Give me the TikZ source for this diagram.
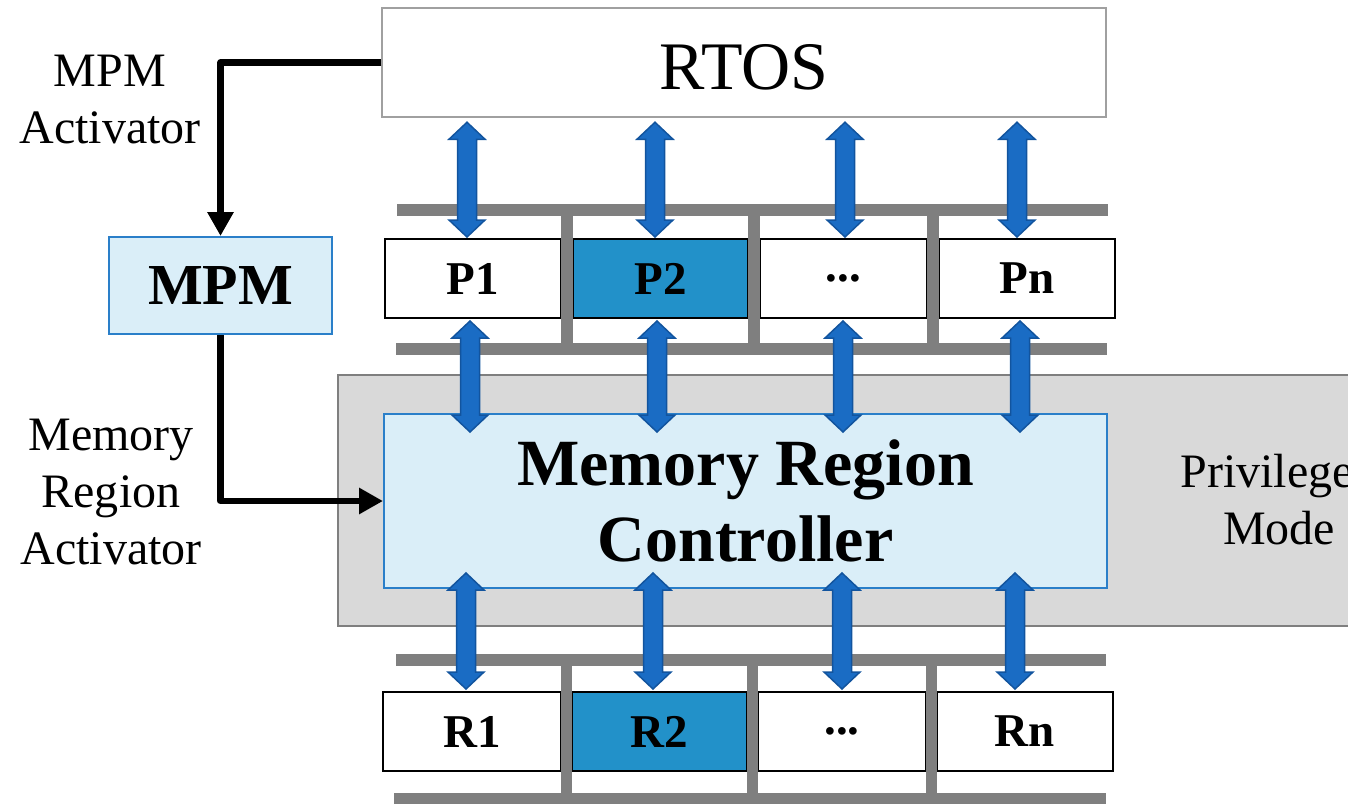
\documentclass[tikz,border=0pt]{standalone}
\usepackage{fontspec}
\setmainfont{Liberation Serif}
\usetikzlibrary{arrows.meta,calc}

\definecolor{paleblue}{HTML}{DAEEF8}
\definecolor{edgeblue}{HTML}{2A7FC9}
\definecolor{activeblue}{HTML}{2291C9}
\definecolor{busblue}{HTML}{1A6CC4}
\definecolor{busedge}{HTML}{12549E}
\definecolor{railgray}{HTML}{7F7F7F}
\definecolor{privgray}{HTML}{D9D9D9}
\definecolor{osgray}{HTML}{A0A0A0}

\tikzset{
  slot/.style={draw=black, line width=2pt, fill=white, inner sep=0pt,
    minimum height=79pt, font=\bfseries\fontsize{47}{57}\selectfont},
  active/.style={slot, fill=activeblue},
  rail/.style={fill=railgray, draw=none},
  lbl/.style={align=center, inner sep=0pt, font=\fontsize{48}{57}\selectfont},
  unit/.style={draw=edgeblue, line width=2pt, fill=paleblue, inner sep=0pt, align=center},
  bus/.style={fill=busblue, draw=busedge, line width=1.5pt, line join=miter},
  ctrl/.style={line width=6.5pt, line join=round, -{Triangle[width=25pt,length=24pt]}},
}

% vertical two-headed bus arrow between two points sharing the x of the first
\newcommand\busarrow[2]{%
  \draw[bus] let \p1=#1, \p2=#2 in
    (\x1,\y1) -- (\x1+18pt,\y1-17pt) -- (\x1+9.5pt,\y1-17pt)
    -- (\x1+9.5pt,\y2+17pt) -- (\x1+18pt,\y2+17pt) -- (\x1,\y2)
    -- (\x1-18pt,\y2+17pt) -- (\x1-9.5pt,\y2+17pt)
    -- (\x1-9.5pt,\y1-17pt) -- (\x1-18pt,\y1-17pt) -- cycle;}

\begin{document}
\begin{tikzpicture}[x=1pt,y=-1pt]
\useasboundingbox (0,0) rectangle (1348,803);
\clip (0,0) rectangle (1348,803);

% privileged zone
\node[draw=railgray, line width=1.5pt, fill=privgray, inner sep=0pt,
  minimum width=1030pt, minimum height=251pt] (priv) at (853,500.5) {};
\node[lbl] (privlbl) at (1279,500) {Privileged\\Mode};

% RTOS
\node[draw=osgray, line width=1.5pt, fill=white, inner sep=0pt,
  minimum width=724pt, minimum height=109pt, text height=54pt, text depth=0pt,
  font=\fontsize{68}{80}\selectfont] (rtos) at (744,62.5) {RTOS};

% memory region controller
\node[unit, minimum width=723pt, minimum height=174pt,
  font=\bfseries\fontsize{66}{76}\selectfont] (mrc) at (745.5,501) {Memory Region\\Controller};

% MPM
\node[unit, minimum width=223pt, minimum height=97pt,
  font=\bfseries\fontsize{58}{70}\selectfont] (mpm) at (220.5,285.5) {MPM};

% partitions
\node[slot, minimum width=176pt] (p1) at (473,278.5) {P1};
\node[active, minimum width=175pt] (p2) at (660.5,278.5) {P2};
\node[slot, minimum width=167pt] (p3) at (843.5,278.5) {...};
\node[slot, minimum width=176pt] (pn) at (1027,278.5) {Pn};

% regions
\node[slot, minimum width=178pt] (r1) at (472,731.5) {R1};
\node[active, minimum width=175pt] (r2) at (659.5,731.5) {R2};
\node[slot, minimum width=168pt] (r3) at (842,731.5) {...};
\node[slot, minimum width=176pt] (rn) at (1025,731.5) {Rn};

% rails around the partitions
\fill[rail] (397,204) rectangle (1108,216);
\fill[rail] (396,343) rectangle (1107,355);
\fill[rail] (561,216) rectangle (573,343);
\fill[rail] (748,216) rectangle (760,343);
\fill[rail] (927,216) rectangle (939,343);

% rails around the regions
\fill[rail] (396,654) rectangle (1106,666);
\fill[rail] (394,793) rectangle (1106,805);
\fill[rail] (561,666) rectangle (572,793);
\fill[rail] (747,666) rectangle (758,793);
\fill[rail] (926,666) rectangle (937,793);

% bus columns
\coordinate (t1) at (467,0);  \coordinate (t2) at (655,0);
\coordinate (t3) at (845,0);  \coordinate (t4) at (1017,0);
\coordinate (m1) at (470,0);  \coordinate (m2) at (657,0);
\coordinate (m3) at (843,0);  \coordinate (m4) at (1020,0);
\coordinate (b1) at (466,0);  \coordinate (b2) at (653,0);
\coordinate (b3) at (842,0);  \coordinate (b4) at (1015,0);

% RTOS <-> partitions
\busarrow{($(rtos.south -| t1)+(0,4.5)$)}{($(p1.north -| t1)+(0,-1)$)}
\busarrow{($(rtos.south -| t2)+(0,4.5)$)}{($(p2.north -| t2)+(0,-1)$)}
\busarrow{($(rtos.south -| t3)+(0,4.5)$)}{($(p3.north -| t3)+(0,-1)$)}
\busarrow{($(rtos.south -| t4)+(0,4.5)$)}{($(pn.north -| t4)+(0,-1)$)}

% partitions <-> controller
\busarrow{($(p1.south -| m1)+(0,2)$)}{($(mrc.north -| m1)+(0,19)$)}
\busarrow{($(p2.south -| m2)+(0,2)$)}{($(mrc.north -| m2)+(0,19)$)}
\busarrow{($(p3.south -| m3)+(0,2)$)}{($(mrc.north -| m3)+(0,19)$)}
\busarrow{($(pn.south -| m4)+(0,2)$)}{($(mrc.north -| m4)+(0,19)$)}

% controller <-> regions
\busarrow{($(mrc.south -| b1)+(0,-16)$)}{($(r1.north -| b1)+(0,-2)$)}
\busarrow{($(mrc.south -| b2)+(0,-16)$)}{($(r2.north -| b2)+(0,-2)$)}
\busarrow{($(mrc.south -| b3)+(0,-16)$)}{($(r3.north -| b3)+(0,-2)$)}
\busarrow{($(mrc.south -| b4)+(0,-16)$)}{($(rn.north -| b4)+(0,-2)$)}

% activation paths
\draw[ctrl] (rtos.west) -| (mpm.north);
\draw[ctrl] (mpm.south) |- (mrc.west);

\node[lbl] (mpmact) at (110,100) {MPM\\Activator};
\node[lbl] (mract) at (111,492) {Memory\\Region\\Activator};
\end{tikzpicture}
\end{document}
